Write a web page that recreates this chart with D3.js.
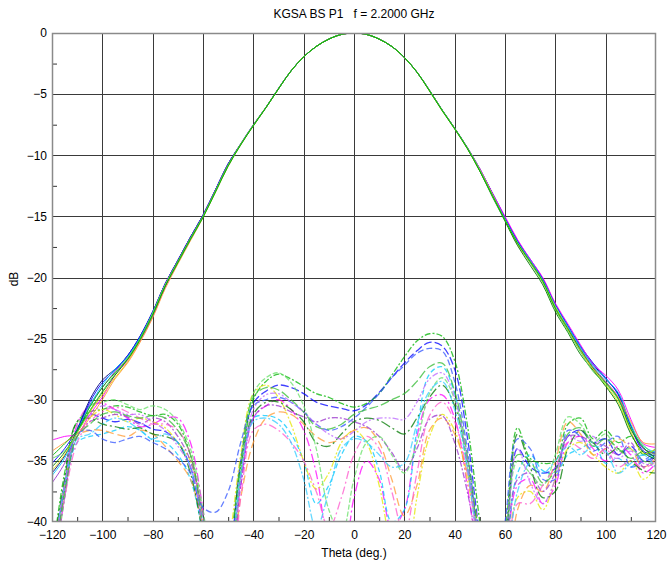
<!DOCTYPE html>
<html><head><meta charset="utf-8">
<script src="https://cdn.jsdelivr.net/npm/d3@7"></script>
<style>
html,body{margin:0;padding:0;background:#fff;}
text{font-family:"Liberation Sans",Arial,sans-serif;}
</style></head>
<body><svg id="chart" width="670" height="565"></svg>
<script>
const title = "KGSA BS P1   f = 2.2000 GHz";
const xLabel = "Theta (deg.)";
const yLabel = "dB";
const xTicks = [-120,-100,-80,-60,-40,-20,0,20,40,60,80,100,120];
const yTicks = [0,-5,-10,-15,-20,-25,-30,-35,-40];
const theta = [-120,-115,-110,-105,-100,-95,-90,-85,-80,-75,-70,-65,-60,-55,-50,
  -45,-40,-35,-30,-25,-20,-15,-10,-5,0,5,10,15,20,25,30,35,40,45,
  50,55,60,65,70,75,80,85,90,95,100,105,110,115,120];

// Co-polar cuts (solid)
const co1 = [-35.2,-34.0,-32.4,-30.2,-28.6,-27.6,-26.4,-24.8,-22.8,-20.5,-18.6,-16.7,-14.9,-12.8,-10.7,
  -9.1,-7.55,-6.1,-4.55,-3.1,-1.95,-1.1,-0.5,-0.12,0,-0.12,-0.5,-1.1,-2.0,-3.2,-4.7,-6.3,-7.8,-9.4,
  -11.2,-13.1,-15.1,-17.0,-18.5,-20.1,-22.2,-23.9,-25.6,-27.0,-28.2,-29.6,-32.2,-34.2,-34.6];
const co2 = [-34.6,-33.6,-32.5,-30.6,-29.0,-27.8,-26.7,-25.1,-23.1,-20.7,-18.8,-16.9,-15.1,-13.0,-10.9,
  -9.15,-7.6,-6.12,-4.58,-3.1,-1.95,-1.1,-0.5,-0.12,0,-0.12,-0.5,-1.1,-2.0,-3.2,-4.75,-6.35,-7.85,-9.45,
  -11.3,-13.3,-15.3,-17.2,-18.7,-20.3,-22.5,-24.2,-25.9,-27.4,-28.6,-29.9,-32.4,-33.9,-34.8];
const co3 = [-33.3,-33.0,-32.8,-31.2,-29.8,-28.0,-26.8,-25.2,-23.2,-20.8,-18.8,-16.9,-15.0,-12.9,-10.8,
  -9.1,-7.55,-6.1,-4.55,-3.1,-1.95,-1.1,-0.5,-0.12,0,-0.12,-0.5,-1.1,-2.0,-3.2,-4.7,-6.3,-7.8,-9.4,
  -11.1,-13.1,-15.0,-16.9,-18.5,-20.0,-22.1,-23.8,-25.5,-27.1,-28.0,-29.2,-31.6,-33.6,-33.9];
const co4 = [-36.2,-34.8,-32.6,-30.5,-28.8,-27.5,-26.5,-24.9,-22.9,-20.6,-18.7,-16.8,-15.0,-12.9,-10.8,
  -9.1,-7.55,-6.1,-4.55,-3.1,-1.95,-1.1,-0.5,-0.12,0,-0.12,-0.5,-1.1,-2.0,-3.2,-4.7,-6.3,-7.8,-9.4,
  -11.2,-13.2,-15.2,-17.1,-18.6,-20.2,-22.3,-24.0,-25.7,-27.2,-28.3,-29.4,-32.0,-33.8,-34.3];
const co5 = [-35.8,-34.5,-32.7,-31.0,-29.6,-28.2,-26.9,-25.1,-23.0,-20.6,-18.7,-16.8,-15.0,-12.9,-10.8,
  -9.1,-7.55,-6.1,-4.55,-3.1,-1.95,-1.1,-0.5,-0.12,0,-0.12,-0.5,-1.1,-2.0,-3.2,-4.7,-6.3,-7.8,-9.4,
  -11.2,-13.2,-15.3,-17.2,-18.7,-20.3,-22.4,-24.2,-26.0,-27.5,-28.8,-30.2,-32.6,-34.4,-34.0];
const co6 = [-34.2,-33.5,-32.8,-31.5,-30.0,-28.3,-27.0,-25.3,-23.3,-20.9,-18.9,-17.0,-15.1,-13.0,-10.9,
  -9.15,-7.6,-6.12,-4.58,-3.1,-1.95,-1.1,-0.5,-0.12,0,-0.12,-0.5,-1.1,-2.0,-3.2,-4.75,-6.35,-7.85,-9.45,
  -11.3,-13.3,-15.3,-17.3,-18.8,-20.4,-22.6,-24.3,-26.0,-27.5,-28.6,-29.8,-31.8,-33.5,-33.6];
const co7 = [-36.8,-35.2,-32.5,-30.4,-29.0,-27.7,-26.5,-24.9,-22.9,-20.5,-18.6,-16.7,-14.9,-12.8,-10.7,
  -9.1,-7.55,-6.1,-4.55,-3.1,-1.95,-1.1,-0.5,-0.12,0,-0.12,-0.5,-1.1,-2.0,-3.2,-4.7,-6.3,-7.8,-9.4,
  -11.2,-13.2,-15.2,-17.1,-18.7,-20.2,-22.4,-24.1,-25.8,-27.3,-28.5,-29.8,-32.4,-34.0,-34.5];
const co8 = [-35.5,-34.3,-32.6,-30.9,-29.4,-28.0,-26.7,-25.0,-23.0,-20.7,-18.7,-16.8,-15.0,-12.9,-10.8,
  -9.1,-7.55,-6.1,-4.55,-3.1,-1.95,-1.1,-0.5,-0.12,0,-0.12,-0.5,-1.1,-2.0,-3.2,-4.7,-6.3,-7.8,-9.4,
  -11.3,-13.4,-15.4,-17.4,-19.0,-20.6,-22.8,-24.5,-26.3,-27.6,-28.9,-30.4,-32.8,-34.3,-34.9];
const co9 = [-34.8,-34.2,-32.7,-30.9,-29.3,-27.9,-26.6,-25.0,-22.9,-20.6,-18.7,-16.8,-15.0,-12.9,-10.8,
  -9.1,-7.55,-6.1,-4.55,-3.1,-1.95,-1.1,-0.5,-0.12,0,-0.12,-0.5,-1.1,-2.0,-3.2,-4.7,-6.3,-7.8,-9.4,
  -11.2,-13.3,-15.3,-17.2,-18.8,-20.4,-22.6,-24.4,-26.1,-27.7,-28.7,-30.0,-32.3,-33.7,-34.6];
const co10 = [-36.0,-34.6,-32.5,-30.0,-28.4,-27.5,-26.4,-24.8,-22.8,-20.5,-18.6,-16.7,-14.9,-12.8,-10.7,
  -9.05,-7.5,-6.08,-4.52,-3.08,-1.95,-1.1,-0.5,-0.12,0,-0.12,-0.5,-1.1,-2.0,-3.18,-4.68,-6.28,-7.78,-9.35,
  -11.1,-13.1,-15.1,-17.0,-18.6,-20.1,-22.2,-24.0,-25.7,-27.1,-28.3,-29.5,-32.1,-34.0,-34.4];

// Cross-polar cuts (dashed)
const cx1 = [-44,-37,-32.5,-31.2,-31.5,-31.8,-31.6,-31.9,-32.4,-32.6,-33.5,-35.5,-40.5,-45,-43,
  -35,-30.3,-29.3,-28.8,-29.0,-29.5,-30.2,-30.5,-30.7,-30.9,-30.4,-29.4,-28.2,-27.0,-26.0,-25.3,-25.6,-27.5,-33,
  -41,-46,-42,-34,-35.5,-36,-35.6,-33,-32.5,-33.5,-33.2,-34.5,-33.8,-35,-34.6];
const cx2 = [-43,-36,-31.8,-31.0,-30.8,-30.5,-30.6,-31.0,-31.3,-31.2,-32.0,-34.5,-39.5,-46,-44,
  -36,-30.0,-28.5,-27.9,-28.3,-28.9,-29.5,-29.8,-30.3,-30.6,-30.3,-29.5,-28.0,-26.5,-25.2,-24.6,-24.8,-26.8,-32,
  -40,-47,-41,-32.3,-34.8,-35.2,-35.0,-32.0,-31.5,-33.2,-32.5,-33.5,-33.0,-34.5,-34.0];
const cx3 = [-45,-38,-32.0,-30.5,-30.3,-30.8,-31.5,-32.2,-32.0,-31.5,-31.5,-33.5,-39,-46,-45,
  -37,-31.5,-30.5,-30.0,-30.8,-32.5,-36,-42,-44,-38,-35,-36.5,-40.5,-39,-33,-30.0,-29.6,-31.5,-37,
  -44,-48,-44,-37,-36.5,-38.5,-37,-33.5,-33.0,-34,-35,-33.8,-34.5,-36,-35.2];
const cx4 = [-44,-37.5,-33.5,-33,-32.8,-32.5,-32.2,-32.5,-33.3,-33.5,-34.5,-36.5,-41,-47,-44,
  -36.5,-31.5,-31.3,-31.6,-32.8,-35,-38.5,-37,-34.5,-33.0,-33.4,-35.8,-40,-39,-32.5,-27.9,-27.3,-29.5,-35.5,
  -42,-47,-43,-36,-34.5,-35.8,-36,-34.5,-34,-33.5,-35.2,-34.8,-35.5,-34.5,-34.9];
const cx5 = [-46,-37,-32.5,-31.5,-30.8,-31.2,-31.8,-31.5,-31.8,-32.3,-33.5,-35,-40,-46,-42,
  -34.5,-29.5,-28.8,-29.8,-32,-35,-37.3,-36,-33.5,-32.5,-33.5,-37,-42,-44,-38,-33,-31.2,-32.5,-36.5,
  -42,-48,-45,-38,-37.5,-39,-36.5,-34,-33.5,-34.5,-35.5,-36,-35,-36.5,-35.5];
const cx6 = [-44,-37,-33,-32.5,-32.5,-32.8,-33,-32.5,-32.8,-33.8,-35,-36.5,-40.5,-46,-45,
  -38,-33.5,-31.5,-31.0,-31.2,-32,-33,-33.5,-33.2,-32.5,-32.3,-33.5,-36.5,-39.5,-37,-32.5,-31.5,-32.8,-36,
  -41,-47,-46,-39,-37,-37.5,-35,-31.8,-32.8,-34.5,-34,-33.2,-34,-35.5,-34.8];
const cx7 = [-45,-38,-33,-31.8,-31.5,-31.2,-31.4,-32,-31.5,-31.8,-33,-35,-39.5,-45,-44,
  -37,-31.5,-30.5,-30.5,-31.0,-31.4,-31.8,-31.5,-31.5,-31.8,-32.2,-33,-34.3,-35.8,-34,-31.6,-31.3,-33.5,-37.5,
  -43,-47,-43,-36.5,-36,-37.5,-36,-33,-33,-33.5,-33.8,-34.5,-33.5,-35.5,-34.5];
const cx8 = [-43,-36.5,-31.8,-31.5,-32,-32.2,-32.4,-32.3,-32.8,-33,-33.5,-36,-41,-46,-43,
  -35.5,-31.2,-30.2,-30.2,-30.8,-31.8,-33.5,-33.8,-32.8,-31.8,-31.5,-31.7,-32.3,-32.8,-31.5,-29.8,-28.8,-30.5,-35,
  -42,-47,-42,-32.8,-35.5,-38,-37.5,-34,-32.5,-33.5,-34.5,-34,-35,-35.8,-36];
const cx9 = [-46,-38,-32.3,-30.5,-30.2,-30.0,-30.4,-30.8,-30.5,-30.8,-31.8,-34,-39,-45,-44,
  -36,-29.5,-28.2,-27.8,-28.6,-30.5,-34,-39,-41,-36.5,-33.5,-33,-34.5,-36,-33.5,-29.5,-28.2,-30,-35.5,
  -42,-48,-43,-35,-36,-37,-34.5,-31.4,-32,-33.5,-32.8,-34.2,-34,-35,-35.3];
const cx10 = [-44,-38,-33.5,-31.8,-31,-30.6,-31,-31.5,-32,-32,-32.5,-34.5,-40,-46,-46,
  -38,-32.5,-32,-32.5,-33.5,-35,-37.5,-40.5,-38,-34.5,-33,-34,-37.5,-41,-36,-31.3,-30.2,-31.8,-36,
  -43,-48,-45,-38.5,-38.5,-37,-35.5,-33.5,-34,-34.8,-34,-35.5,-35,-35.6,-35];
const cx11 = [-45,-37,-32.8,-32.5,-33.2,-33.5,-33.2,-33,-33.5,-34,-34.8,-36,-38.8,-39.2,-37.5,
  -33.5,-30.5,-30,-29.8,-30.2,-31,-32,-32.5,-32.2,-31.5,-30.6,-29.5,-28.2,-27.2,-26.2,-25.8,-26.0,-28.5,-34,
  -42,-46,-40,-33.2,-34,-36.5,-36.5,-32.5,-33,-34.2,-33.5,-33,-35.5,-35,-34.2];
const cx12 = [-44,-37,-33.2,-32.8,-32,-31.5,-31.8,-32.5,-33.2,-32.8,-33.5,-35.5,-40,-46,-44,
  -36,-31.8,-31.5,-32,-33.5,-36.5,-40.5,-37.5,-34,-33.2,-33.5,-34.5,-35.5,-35.2,-32,-29.3,-28.5,-30.8,-35.5,
  -43,-47,-44,-37.5,-35.2,-36,-35,-33.8,-34.5,-33.8,-34.2,-36,-35.2,-34.5,-35.6];
const cx13 = [-45,-37.5,-33,-32,-31.2,-31,-31.3,-31.5,-31.3,-31.5,-32.5,-34.5,-40.5,-47,-43,
  -35,-29.8,-29,-29.2,-30,-31,-32.2,-32.4,-32,-31.2,-30.8,-30.5,-30,-29.5,-28.5,-27.3,-27.0,-29.3,-34.5,
  -41.5,-47,-42,-34.5,-35,-36.8,-35.8,-32.8,-32.3,-33.8,-33.2,-34,-34.8,-34.2,-34.8];
const cx14 = [-44,-37,-32.5,-31.3,-30.5,-30.8,-31.2,-31.2,-31.8,-32.5,-33.8,-35.5,-40.5,-46,-44,
  -36.5,-30.8,-29.6,-29.5,-30.2,-31,-32,-32.8,-33.2,-32.6,-31.8,-31.5,-31.5,-31.6,-30.2,-28.3,-27.8,-29.8,-35,
  -42.5,-47,-41.5,-34,-36.8,-38.5,-36.5,-33,-33.4,-33,-34.4,-34.8,-34.2,-35.2,-35.4];

const coSeries = [co10,co7,co1,co3,co4,co5,co6,co8,co9,co2];
const coColors = ["#000080","#9933cc","#0000ff","#ff00ff","#00c8ff","#e0e000","#ff9933","#007a00","#55dd55","#00b400"];
const cxSeries = [cx1,cx2,cx3,cx4,cx5,cx6,cx7,cx8,cx9,cx10,cx11,cx12,cx13,cx14];
const cxColors = ["#0000ff","#00b400","#ff00ff","#00c8ff","#e6e600","#ff9933","#9933cc","#007a00","#66e066","#ff55cc","#3355ff","#33ccff","#33bb33","#bb66ff"];
const cxDash = ["8,3","6,2,2,2","9,3,2,3","5,3","7,2,2,2,2,2","8,4","6,2,2,2","10,3,2,3","5,2","8,3,2,3","6,3","7,2,2,2","9,3","6,2,2,2,2,2"];

const svg = d3.select("#chart");
const L = 52, R = 656, T = 33, B = 522;
const x = d3.scaleLinear().domain([-120,120]).range([L,R]);
const y = d3.scaleLinear().domain([-40,0]).range([B,T]);

svg.append("defs").append("clipPath").attr("id","clip")
  .append("rect").attr("x",L).attr("y",T).attr("width",R-L).attr("height",B-T);

// grid
const grid = svg.append("g");
grid.selectAll("line.v").data(xTicks.slice(1,-1)).join("line")
  .attr("x1",d=>Math.round(x(d))+0.5).attr("x2",d=>Math.round(x(d))+0.5)
  .attr("y1",T).attr("y2",B).attr("stroke","#3a3a3a").attr("stroke-width",1);
grid.selectAll("line.h").data(yTicks.slice(1,-1)).join("line")
  .attr("y1",d=>Math.round(y(d))+0.5).attr("y2",d=>Math.round(y(d))+0.5)
  .attr("x1",L).attr("x2",R).attr("stroke","#3a3a3a").attr("stroke-width",1);

// minor ticks
const xMinor = xTicks.slice(0,-1).map((d,i)=>(d+xTicks[i+1])/2);
const yMinor = yTicks.slice(0,-1).map((d,i)=>(d+yTicks[i+1])/2);
svg.append("g").attr("transform",`translate(0,${B})`)
  .call(d3.axisBottom(x).tickValues(xMinor).tickSize(-5).tickFormat(""))
  .call(g=>g.select(".domain").remove())
  .call(g=>g.selectAll("line").attr("stroke","#333"));
svg.append("g").attr("transform",`translate(${L},0)`)
  .call(d3.axisLeft(y).tickValues(yMinor).tickSize(-5).tickFormat(""))
  .call(g=>g.select(".domain").remove())
  .call(g=>g.selectAll("line").attr("stroke","#333"));

// lines
const line = d3.line().x((d,i)=>x(theta[i])).y(d=>y(d)).curve(d3.curveCatmullRom.alpha(0.5));
const plot = svg.append("g").attr("clip-path","url(#clip)");
cxSeries.forEach((s,i)=>{
  plot.append("path").attr("d",line(s)).attr("fill","none")
    .attr("stroke",cxColors[i]).attr("stroke-width",1.3)
    .attr("stroke-dasharray",cxDash[i]).attr("opacity",0.75);
});
coSeries.forEach((s,i)=>{
  plot.append("path").attr("d",line(s)).attr("fill","none")
    .attr("stroke",coColors[i]).attr("stroke-width",1).attr("opacity",0.9);
});

// frame
svg.append("rect").attr("x",L+0.5).attr("y",T+0.5).attr("width",R-L-1).attr("height",B-T-1)
  .attr("fill","none").attr("stroke","#8a8a8a").attr("stroke-width",1.5);

// axes labels
const xa = svg.append("g").attr("transform",`translate(0,${B})`)
  .call(d3.axisBottom(x).tickValues(xTicks).tickSize(0).tickPadding(8).tickFormat(d3.format("d")));
xa.select(".domain").remove();
xa.selectAll("text").attr("font-size",12).attr("fill","#000").attr("font-family","Liberation Sans, Arial, sans-serif");
const ya = svg.append("g").attr("transform",`translate(${L},0)`)
  .call(d3.axisLeft(y).tickValues(yTicks).tickSize(0).tickPadding(5).tickFormat(d3.format("d")));
ya.select(".domain").remove();
ya.selectAll("text").attr("font-size",12).attr("fill","#000").attr("font-family","Liberation Sans, Arial, sans-serif");

svg.append("text").attr("x",354).attr("y",18).attr("text-anchor","middle")
  .attr("font-size",12).style("white-space","pre").text(title);
svg.append("text").attr("x",354).attr("y",557).attr("text-anchor","middle")
  .attr("font-size",12).text(xLabel);
svg.append("text").attr("transform","translate(18,279) rotate(-90)").attr("text-anchor","middle")
  .attr("font-size",12).text(yLabel);
</script></body></html>
